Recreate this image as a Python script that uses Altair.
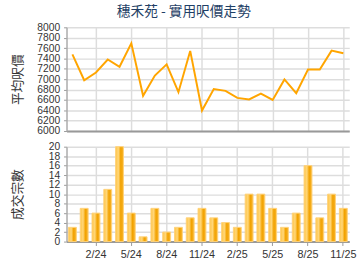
import altair as alt
import pandas as pd

months = ["12/23", "1/24", "2/24", "3/24", "4/24", "5/24", "6/24", "7/24", "8/24",
          "9/24", "10/24", "11/24", "12/24", "1/25", "2/25", "3/25", "4/25", "5/25",
          "6/25", "7/25", "8/25", "9/25", "10/25", "11/25"]
price = [7480, 6980, 7130, 7380, 7240, 7690, 6680, 7070, 7285, 6750, 7545, 6395,
         6810, 6775, 6640, 6610, 6720, 6600, 6995, 6730, 7185, 7185, 7550, 7500]
deals = [3, 7, 6, 11, 20, 6, 1, 7, 2, 3, 5, 7, 5, 4, 3, 10, 10, 7, 3, 6, 16, 5, 10, 7]
tick_months = ["2/24", "5/24", "8/24", "11/24", "2/25", "5/25", "8/25", "11/25"]
price_ticks = list(range(6000, 8001, 200))
deal_ticks = list(range(0, 21, 2))

df = pd.DataFrame({"month": months, "price": price, "deals": deals})

W = 289
LABEL_FONT = "Liberation Sans Narrow, Arial Narrow, Liberation Sans, sans-serif"
CJK = "Noto Sans CJK TC"

common_y_axis = dict(
    labelFont=LABEL_FONT, labelFontSize=10.5, labelColor="#333333",
    labelOverlap=False, format="d", labelBound=False, labelFlush=False,
    titleFont=CJK, titleFontSize=13, titleFontWeight="normal", titleColor="#333333",
    titleAngle=270, titleX=-50, titleAlign="center", titleBaseline="middle",
    tickSize=3, tickColor="#999999", labelPadding=4,
    domainColor="#aaaaaa", domainWidth=1.5,
    gridColor="#dddddd", gridWidth=1.5,
)

top = alt.Chart(df).mark_line(color="#FFA500", strokeWidth=2).encode(
    x=alt.X("month:O", sort=months,
            scale=alt.Scale(type="point", padding=0.5),
            axis=alt.Axis(values=tick_months, labels=False, ticks=False, title=None,
                          grid=True, gridColor="#dddddd", gridWidth=1.5,
                          domainColor="#999999", domainWidth=2)),
    y=alt.Y("price:Q", scale=alt.Scale(domain=[6000, 8000], nice=False, zero=False),
            axis=alt.Axis(values=price_ticks, title="平均呎價", **common_y_axis)),
).properties(width=W, height=106)

bar_grad = alt.Gradient(
    gradient="linear", x1=0, x2=1, y1=0, y2=0,
    stops=[alt.GradientStop(color="#ffc445", offset=0),
           alt.GradientStop(color="#ffd77a", offset=0.35),
           alt.GradientStop(color="#f2a200", offset=0.65),
           alt.GradientStop(color="#f7b530", offset=1)],
)

bottom = alt.Chart(df).mark_bar(color=bar_grad, stroke="#ffd27a", strokeWidth=1).encode(
    x=alt.X("month:O", sort=months,
            scale=alt.Scale(type="band", paddingInner=0.33, paddingOuter=0.165),
            axis=alt.Axis(values=tick_months, title=None, labelAngle=0,
                          labelFont=LABEL_FONT, labelFontSize=11, labelColor="#333333",
                          grid=True, gridColor="#dddddd", gridWidth=1.5, bandPosition=0.5,
                          ticks=True, tickSize=4, tickColor="#999999",
                          domainColor="#999999", domainWidth=2, labelPadding=3)),
    y=alt.Y("deals:Q", scale=alt.Scale(domain=[0, 20], nice=False),
            axis=alt.Axis(values=deal_ticks, title="成交宗數", **common_y_axis)),
).properties(width=W, height=97)

chart = alt.vconcat(top, bottom, spacing=16, bounds="flush").properties(
    title=alt.TitleParams("穗禾苑 - 實用呎價走勢", font=CJK, fontSize=14,
                          fontWeight="normal", color="#1f3f66", anchor="middle",
                          frame="bounds", offset=4),
    padding={"left": 12, "top": 2, "right": 4, "bottom": 3},
).configure_view(stroke=None)

chart.save("out.html", embed_options={"renderer": "svg", "actions": False})
